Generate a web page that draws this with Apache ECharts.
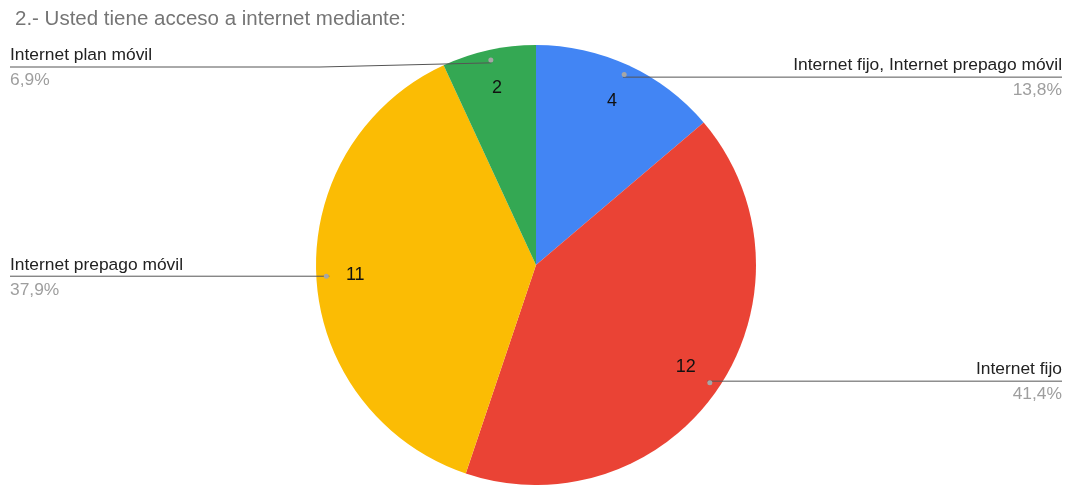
<!DOCTYPE html>
<html><head><meta charset="utf-8">
<script src="https://cdn.jsdelivr.net/npm/echarts@6/dist/echarts.min.js"></script>
<style>html,body{margin:0;padding:0;background:#fff}#c{width:1067px;height:485px}</style>
</head><body><div id="c"></div>
<script>
var titleText = '2.- Usted tiene acceso a internet mediante:';
var categories = ['Internet fijo, Internet prepago móvil', 'Internet fijo', 'Internet prepago móvil', 'Internet plan móvil'];
var values = [4, 12, 11, 2];
var colors = ['#4285f4', '#ea4335', '#fbbc04', '#34a853'];

var CX = 536, CY = 265, R = 220, RD = 207;
var data = categories.map(function (c, i) { return { name: c, value: values[i], itemStyle: { color: colors[i] } }; });
var ghost = categories.map(function (c, i) { return { name: c, value: values[i] }; });
var chart = echarts.init(document.getElementById('c'));
var W = 1067;
var FONT = 'Liberation Sans, Arial';
function pct(p) { return p.percent.toFixed(1).replace('.', ',') + '%'; }
var base = { type: 'pie', center: [CX, CY], startAngle: 90, clockwise: true, silent: true, animation: false,
  emphasis: { disabled: true }, itemStyle: { color: 'transparent', borderWidth: 0 } };
chart.setOption({
  animation: false,
  title: { text: titleText, left: 10, top: 4, textStyle: { fontFamily: FONT, fontSize: 20.5, fontWeight: 'normal', color: '#757575' } },
  series: [
    Object.assign({}, base, { z: 1, radius: [0, R], data: data, label: { show: false }, labelLine: { show: false }, itemStyle: { borderWidth: 0 } }),
    Object.assign({}, base, { z: 3, radius: [136, R], data: ghost,
      label: { show: true, position: 'inside', formatter: '{c}', fontFamily: FONT, fontSize: 18, color: '#111' } }),
    Object.assign({}, base, { z: 4, radius: [0, RD], data: ghost,
      label: { show: true, position: 'outside', formatter: function (p) { return '{n|' + p.name + '}\n{p|' + pct(p) + '}'; },
        rich: { n: { fontFamily: FONT, fontSize: 17.4, color: '#222', lineHeight: 25 },
                p: { fontFamily: FONT, fontSize: 17.4, color: '#9e9e9e', lineHeight: 25 } } },
      labelLine: { show: true, length: 5, length2: 5, lineStyle: { color: '#555', width: 1 } },
      labelLayout: function (p) {
        var pts = p.labelLinePoints;
        if (!pts) return {};
        var s = pts[0];
        var right = s[0] > CX;
        var y = Math.max(s[1], 67);
        var ex = right ? W - 5 : 10;
        var mid = (y !== s[1]) ? [right ? CX + R - 4 : CX - R + 4, y] : s;
        return { x: ex, y: y + 1, align: right ? 'right' : 'left', verticalAlign: 'middle', labelLinePoints: [s, mid, [ex, y]] };
      } }),
    Object.assign({}, base, { z: 5, radius: [RD - 8, RD + 8], data: ghost,
      label: { show: true, position: 'inside', formatter: '{d|}', lineHeight: 5, rich: { d: { width: 5, height: 5, lineHeight: 5, borderRadius: 3, backgroundColor: '#a6a6a6' } } } })
  ]
});
</script></body></html>
